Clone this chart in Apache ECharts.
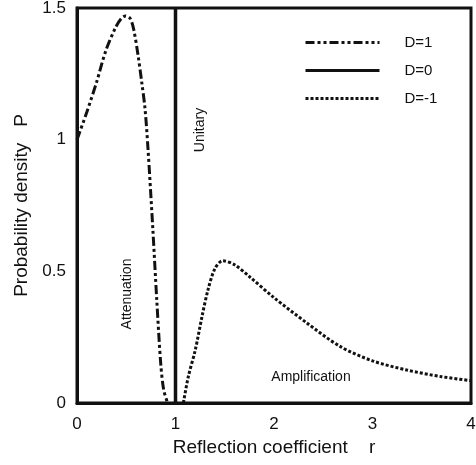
<!DOCTYPE html>
<html>
<head>
<meta charset="utf-8">
<script src="https://cdn.jsdelivr.net/npm/echarts@6/dist/echarts.min.js"></script>
<style>
  html, body { margin: 0; padding: 0; background: #fff; }
  #chart { width: 476px; height: 465px; }
</style>
</head>
<body>
<div id="chart"></div>
<script>
// D=1 (attenuation) curve
const rAtt = [0, 0.10, 0.20, 0.29, 0.39, 0.45, 0.494, 0.54, 0.575, 0.62, 0.66, 0.69, 0.72, 0.77, 0.81, 0.85, 0.88, 0.92]
const pAtt = [1.0, 1.105, 1.22, 1.335, 1.425, 1.46, 1.47, 1.46, 1.42, 1.32, 1.21, 1.12, 0.97, 0.66, 0.39, 0.15, 0.05, 0]
// D=0 (unitary) is a spike at r = 1
const rUni = [1, 1]
const pUni = [0, 1.5]
// D=-1 (amplification) curve
const rAmp = [1.08, 1.13, 1.20, 1.27, 1.33, 1.40, 1.48, 1.60, 1.75, 2.0, 2.33, 2.67, 3.0, 3.35, 3.7, 4.0]
const pAmp = [0, 0.10, 0.20, 0.33, 0.43, 0.51, 0.54, 0.525, 0.48, 0.40, 0.305, 0.215, 0.16, 0.125, 0.10, 0.085]
const seriesNames = ['D=1', 'D=0', 'D=-1']
const yTicks = [0, 0.5, 1, 1.5]
const xTicks = [0, 1, 2, 3, 4]

const font = 'Liberation Sans'
const ink = '#111'

const zip = (xs, ys) => xs.map((x, i) => [x, ys[i]])

const chart = echarts.init(document.getElementById('chart'))
chart.setOption({
    animation: false,
    color: [ink, ink, ink],
    grid: {
        left: 77, right: 5, top: 8, bottom: 62,
        show: true, borderColor: ink, borderWidth: 3,
        outerBoundsMode: 'none'
    },
    legend: {
        data: seriesNames,
        orient: 'vertical',
        left: 299,
        top: 30,
        itemWidth: 74,
        itemHeight: 14,
        itemGap: 13,
        selectedMode: false,
        // hide the symbol, keep the line sample
        itemStyle: { opacity: 0 },
        lineStyle: { width: 3 },
        textStyle: { fontFamily: font, fontSize: 15, color: ink, padding: [0, 0, 0, 20] }
    },
    xAxis: {
        type: 'value',
        min: xTicks[0], max: xTicks[xTicks.length - 1], interval: 1,
        name: 'Reflection coefficient    r',
        nameLocation: 'middle',
        nameGap: 35,
        nameTextStyle: { fontFamily: font, fontSize: 19, color: ink },
        axisLine: { lineStyle: { color: ink, width: 3 } },
        axisTick: { show: false },
        splitLine: { show: false },
        axisLabel: { fontFamily: font, fontSize: 17, color: ink, margin: 13 }
    },
    yAxis: {
        type: 'value',
        min: yTicks[0], max: yTicks[yTicks.length - 1], interval: 0.5,
        name: 'Probability density   P',
        nameLocation: 'middle',
        nameGap: 46,
        nameTextStyle: { fontFamily: font, fontSize: 19, color: ink },
        axisLine: { show: true, lineStyle: { color: ink, width: 3 } },
        axisTick: { show: false },
        splitLine: { show: false },
        axisLabel: { fontFamily: font, fontSize: 17, color: ink, margin: 11 }
    },
    series: [
        {
            name: seriesNames[0],
            type: 'line',
            data: zip(rAtt, pAtt),
            smooth: 0.3,
            symbol: 'none',
            lineStyle: { color: ink, width: 3, type: [9, 3, 3, 3, 3, 3] }
        },
        {
            name: seriesNames[1],
            type: 'line',
            data: zip(rUni, pUni),
            symbol: 'none',
            lineStyle: { color: ink, width: 3.5 }
        },
        {
            name: seriesNames[2],
            type: 'line',
            data: zip(rAmp, pAmp),
            smooth: 0.3,
            symbol: 'none',
            lineStyle: { color: ink, width: 3, type: [3, 2] }
        }
    ],
    // region labels
    graphic: [
        {
            type: 'text', x: 200, y: 130, rotation: Math.PI / 2,
            style: { text: 'Unitary', fontFamily: font, fontSize: 14, fill: ink, align: 'center', verticalAlign: 'middle' }
        },
        {
            type: 'text', x: 127, y: 294, rotation: Math.PI / 2,
            style: { text: 'Attenuation', fontFamily: font, fontSize: 14, fill: ink, align: 'center', verticalAlign: 'middle' }
        },
        {
            type: 'text', x: 311, y: 377,
            style: { text: 'Amplification', fontFamily: font, fontSize: 14, fill: ink, align: 'center', verticalAlign: 'middle' }
        }
    ]
})
</script>
</body>
</html>
